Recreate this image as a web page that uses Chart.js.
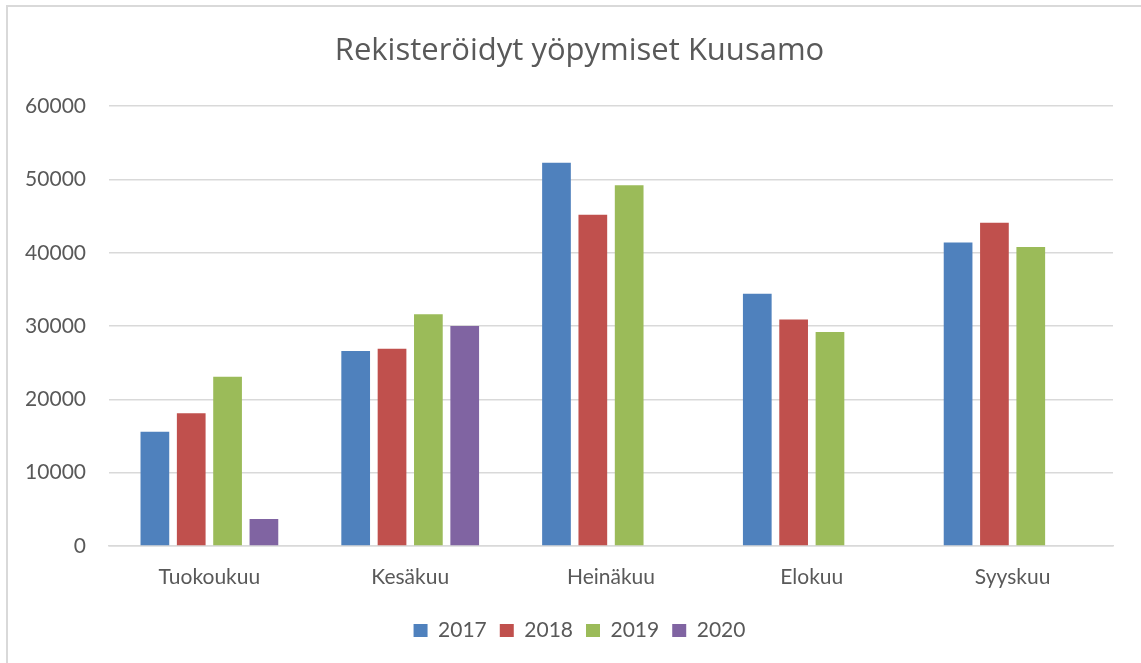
<!DOCTYPE html>
<html>
<head>
<meta charset="utf-8">
<script src="https://cdn.jsdelivr.net/npm/chart.js@4/dist/chart.umd.min.js"></script>
<style>
  html, body { margin: 0; padding: 0; background: #fff; overflow: hidden; }
  #box {
    position: absolute; left: 6px; top: 5px;
    border-left: 2px solid #d9d9d9; border-top: 2px solid #d9d9d9;
    width: 1143px; height: 660px;
  }
  canvas { display: block; }
</style>
</head>
<body>
<div id="box"><canvas id="chart" width="1143" height="656"></canvas></div>
<script>
const months = ['Tuokoukuu', 'Kesäkuu', 'Heinäkuu', 'Elokuu', 'Syyskuu']
const years = ['2017', '2018', '2019', '2020']
const v2017 = [15600, 26600, 52300, 34400, 41400]
const v2018 = [18100, 26900, 45200, 30900, 44100]
const v2019 = [23100, 31600, 49200, 29200, 40800]
const v2020 = [3700, 30000, null, null, null]
const colors = ['#4F81BD', '#C0504D', '#9BBB59', '#8064A2']

const TEXT = '#595959'
const GRID = '#d9d9d9'
Chart.defaults.font.family = 'Lato, "Open Sans", sans-serif'
Chart.defaults.color = TEXT

const series = [v2017, v2018, v2019, v2020]

const ctx = document.getElementById('chart')
new Chart(ctx, {
  type: 'bar',
  data: {
    labels: months,
    datasets: series.map((vals, i) => ({
      label: years[i],
      data: vals,
      backgroundColor: colors[i],
      categoryPercentage: 0.724,
      barPercentage: 0.79
    }))
  },
  options: {
    responsive: false,
    animation: false,
    layout: { padding: { left: 0, right: 0, top: 0, bottom: 12 } },
    plugins: {
      title: {
        display: true,
        text: 'Rekisteröidyt yöpymiset Kuusamo',
        color: TEXT,
        font: { family: '"Open Sans", sans-serif', size: 31, weight: 'normal' },
        padding: { top: 26, bottom: 36 }
      },
      legend: {
        position: 'bottom',
        labels: {
          boxWidth: 14,
          boxHeight: 13,
          padding: 13,
          color: TEXT,
          font: { size: 21 }
        }
      },
      tooltip: { enabled: false }
    },
    scales: {
      x: {
        grid: { display: false },
        border: { display: true, color: GRID, width: 1.5 },
        ticks: { padding: 11, font: { size: 21 }, color: TEXT },
        afterFit: (s) => { s.height = 61 }
      },
      y: {
        min: 0,
        max: 60000,
        ticks: { stepSize: 10000, padding: 23, font: { size: 21 }, color: TEXT, callback: (v) => String(v) },
        grid: { color: GRID, lineWidth: 1.5, drawTicks: false },
        border: { display: false },
        afterFit: (s) => { s.width = 101 }
      },
      // empty spacer on the right so title/legend centre like the original box
      spacer: {
        position: 'right',
        grid: { display: false },
        border: { display: false },
        ticks: { display: false },
        afterFit: (s) => { s.width = 38 }
      }
    }
  }
})
</script>
</body>
</html>
